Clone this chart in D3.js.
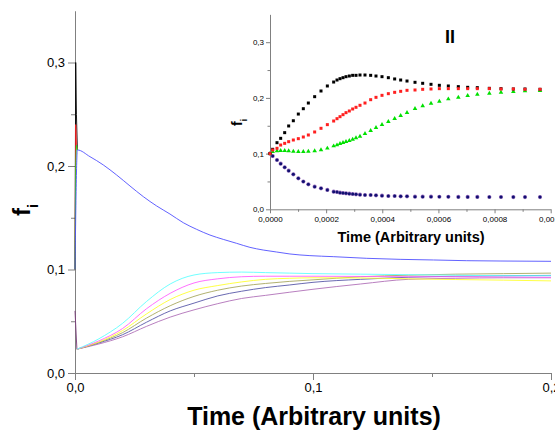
<!DOCTYPE html>
<html><head><meta charset="utf-8">
<script src="https://cdn.jsdelivr.net/npm/d3@7"></script>
<style>
html,body{margin:0;padding:0;background:#fff;}
svg{display:block;font-family:"Liberation Sans",Arial,sans-serif;}
</style></head>
<body><svg id="c" width="555" height="431"></svg>
<script>
// ---------- MAIN CHART DATA ----------
const mainYTicks = [0, 0.1, 0.2, 0.3];
const mainYMinor = [0.05, 0.15, 0.25];
const mainXTicks = [0, 0.1, 0.2];
const mainXMinor = [0.05, 0.15];

// upper (fast-relaxing) series
const tBlue = [0, .001, .0063, .0119, .0175, .0231, .0287, .0343, .0399, .0455, .0511, .0567, .0623, .0679, .0735, .0791, .0847, .0903, .0987, .1085, .1226, .1366, .1506, .1646, .1786, .2];
const vBlue = [.1, .2155, .209, .201, .1913, .1807, .1704, .1614, .1536, .1452, .1388, .1333, .1291, .1253, .1214, .1188, .1169, .115, .1134, .1124, .1108, .1098, .1092, .1085, .1082, .1079];
// initial spikes near t = 0
const tSpike = [0, .0003, .0006, .001];
const vSpikeBlack = [.1, .3, .25, .2155];
const vSpikeRed = [.1, .24, .22, .2155];
const vSpikeGreen = [.1, .2, .22, .2155];
const tSpikeLow = [0, .0008];
const vSpikeLow = [.06, .023];

// lower series
const tLow = [.0008, .01, .02, .03, .04, .05, .06, .07, .08, .09, .1, .12, .14, .16, .18, .2];
const vCyan    = [.023, .033, .048, .069, .086, .0947, .097, .0975, .097, .0965, .096, .0955, .095, .0945, .094, .094];
const vMagenta = [.023, .031, .043, .062, .077, .087, .091, .093, .0935, .0935, .0935, .0933, .093, .093, .0928, .0925];
const vYellow  = [.023, .030, .041, .057, .071, .080, .0845, .088, .0905, .0915, .092, .0918, .091, .0903, .0897, .089];
const vOlive   = [.023, .0295, .039, .053, .065, .074, .080, .084, .0865, .0885, .090, .093, .0945, .0955, .096, .0965];
const vNavy    = [.023, .029, .037, .049, .060, .0675, .0745, .079, .0825, .085, .0876, .0905, .0925, .0935, .094, .0943];
const vPurple  = [.023, .028, .035, .045, .054, .061, .067, .072, .075, .078, .0809, .086, .0905, .0915, .092, .092];

// ---------- INSET DATA ----------
const insetYTicks = [0, 0.1, 0.2, 0.3];
const insetYMinor = [0.05, 0.15, 0.25];
const insetXTicks = [0, 0.0002, 0.0004, 0.0006, 0.0008, 0.001];
const insetXMinor = [0.0001, 0.0003, 0.0005, 0.0007, 0.0009];
const tInset = [0, 9.5e-6, 24.9e-6, 38.0e-6, 52.3e-6, 66.5e-6, 83.1e-6, 100.9e-6, 118.7e-6, 136.6e-6,
  159.1e-6, 181.7e-6, 204.3e-6, 226.8e-6, 238.7e-6, 249.4e-6, 260.1e-6, 270.8e-6, 282.6e-6, 294.5e-6,
  306.4e-6, 320.6e-6, 338.4e-6, 358.6e-6, 377.6e-6, 399.0e-6, 421.6e-6, 444.1e-6, 465.5e-6, 488.1e-6,
  516.6e-6, 543.9e-6, 573.6e-6, 603.3e-6, 635.3e-6, 670.9e-6, 704.2e-6, 738.6e-6, 781.4e-6, 822.9e-6,
  866.9e-6, 908.4e-6, 961.9e-6];
const insBlack = [0.1, .1077, .1196, .1274, .1376, .1496, .159, .171, .1806, .1908,
  .2022, .2124, .2214, .2285, .2321, .2345, .2363, .2381, .2393, .2405,
  .2405, .2411, .2411, .2405, .2393, .2381, .2363, .234, .2321, .2303,
  .228, .2262, .2244, .2226, .2214, .2202, .219, .2184, .2172, .2166, .216, .216, .2154];
const insRed = [0.1, .1065, .1095, .1154, .1184, .1214, .1244, .1268, .1298, .1334,
  .1388, .1454, .152, .1585, .1627, .1663, .1699, .1735, .1765, .1801,
  .1831, .1867, .1908, .1968, .201, .2046, .2076, .21, .2118, .2136,
  .2142, .2154, .216, .2166, .2166, .2166, .2166, .2166, .2166, .216, .216, .2154, .2154];
const insGreen = [0.1, .1035, .1047, .1053, .1053, .1047, .1041, .1035, .1035, .1041,
  .1047, .1065, .1095, .1136, .1154, .1178, .1196, .1214, .1232, .1256,
  .128, .131, .1358, .1412, .1466, .152, .1573, .1627, .1681, .1735,
  .1807, .1855, .1902, .1938, .198, .201, .204, .2064, .2082, .21, .2112, .2124, .213];
const insLow = [0.1, .0957, .0885, .082, .0754, .0694, .0628, .0556, .0497, .0449,
  .0407, .0377, .0347, .0317, .0311, .0299, .0293, .0287, .0281, .0275,
  .0269, .0263, .0257, .0257, .0251, .0245, .0239, .0239, .0233, .0233,
  .0227, .0227, .0227, .0225, .0224, .0223, .0222, .0222, .0221, .0221, .022, .022, .022];

// ---------- DRAW ----------
const svg = d3.select("#c");
const axisColor = "#808080";
const comma = f => v => f(v).replace(".", ",");

function styleAxis(g, fs) {
  g.select(".domain").attr("stroke", axisColor);
  g.selectAll(".tick line").attr("stroke", axisColor);
  g.selectAll(".tick text").attr("fill", "#000").style("font-size", fs + "px")
    .style("font-family", '"Liberation Sans",Arial,sans-serif');
}

// main scales
const x = d3.scaleLinear().domain([0, 0.2]).range([75, 551]);
const y = d3.scaleLinear().domain([0, 0.35]).range([373, 10.75]);

// main axes
const gy = svg.append("g").attr("transform", "translate(75,0)")
  .call(d3.axisLeft(y).tickValues(mainYTicks).tickSize(7).tickSizeOuter(0).tickPadding(3).tickFormat(comma(d3.format(".1f"))));
styleAxis(gy, 13);
const gym = svg.append("g").attr("transform", "translate(75,0)")
  .call(d3.axisLeft(y).tickValues(mainYMinor).tickSize(4).tickSizeOuter(0).tickFormat(""));
styleAxis(gym, 13); gym.select(".domain").remove();
const gx = svg.append("g").attr("transform", "translate(0,373)")
  .call(d3.axisBottom(x).tickValues(mainXTicks).tickSize(7).tickSizeOuter(0).tickPadding(3).tickFormat(comma(d3.format(".1f"))));
styleAxis(gx, 13);
const gxm = svg.append("g").attr("transform", "translate(0,373)")
  .call(d3.axisBottom(x).tickValues(mainXMinor).tickSize(4).tickSizeOuter(0).tickFormat(""));
styleAxis(gxm, 13); gxm.select(".domain").remove();

const mline = d3.line().x(d => x(d[0])).y(d => y(d[1])).curve(d3.curveMonotoneX);
const lline = d3.line().x(d => x(d[0])).y(d => y(d[1]));
function drawMain(ts, vs, color, gen) {
  svg.append("path").datum(ts.map((t, i) => [t, vs[i]]))
    .attr("d", gen || mline).attr("fill", "none").attr("stroke", color).attr("stroke-width", 0.9);
}
drawMain(tSpikeLow, vSpikeLow, "#7a3a7a", lline);
drawMain(tLow, vPurple, "#b070b8");
drawMain(tLow, vNavy, "#5858a8");
drawMain(tLow, vOlive, "#a8a860");
drawMain(tLow, vYellow, "#ffff30");
drawMain(tLow, vMagenta, "#ff60ff");
drawMain(tLow, vCyan, "#60ffff");
drawMain(tSpike, vSpikeBlack, "#000000", lline);
drawMain(tSpike, vSpikeRed, "#ff2020", lline);
drawMain(tSpike, vSpikeGreen, "#20e020", lline);
drawMain(tBlue, vBlue, "#5050ff");

// main titles
svg.append("text").attr("x", 314).attr("y", 425).attr("text-anchor", "middle")
  .style("font-size", "25px").style("font-weight", "bold").text("Time (Arbitrary units)");
const fl = svg.append("text").attr("transform", "translate(30,216) rotate(-90)")
  .style("font-weight", "bold");
fl.append("tspan").style("font-size", "24px").text("f");
fl.append("tspan").style("font-size", "14px").attr("dy", 8).text("i");

// ---------- INSET ----------
const xi = d3.scaleLinear().domain([0, 0.001]).range([270, 550.7]);
const yi = d3.scaleLinear().domain([0, 0.35]).range([209.3, 14.35]);

const iy = svg.append("g").attr("transform", "translate(270,0)")
  .call(d3.axisLeft(yi).tickValues(insetYTicks).tickSize(4).tickSizeOuter(0).tickPadding(2).tickFormat(comma(d3.format(".1f"))));
styleAxis(iy, 8);
const iym = svg.append("g").attr("transform", "translate(270,0)")
  .call(d3.axisLeft(yi).tickValues(insetYMinor).tickSize(2.5).tickSizeOuter(0).tickFormat(""));
styleAxis(iym, 8); iym.select(".domain").remove();
const ix = svg.append("g").attr("transform", "translate(0,209.3)")
  .call(d3.axisBottom(xi).tickValues(insetXTicks).tickSize(4).tickSizeOuter(0).tickPadding(3).tickFormat(comma(d3.format(".4f"))));
styleAxis(ix, 8);
const ixm = svg.append("g").attr("transform", "translate(0,209.3)")
  .call(d3.axisBottom(xi).tickValues(insetXMinor).tickSize(2.5).tickSizeOuter(0).tickFormat(""));
styleAxis(ixm, 8); ixm.select(".domain").remove();

const pts = vs => tInset.map((t, i) => [t, vs[i]]);
// bottom series (overlapping navy / purple)
svg.append("g").selectAll("circle").data(pts(insLow)).join("circle")
  .attr("cx", d => xi(d[0])).attr("cy", d => yi(d[1])).attr("r", 2.1).attr("fill", "#9a70c0");
svg.append("g").selectAll("circle").data(pts(insLow)).join("circle")
  .attr("cx", d => xi(d[0])).attr("cy", d => yi(d[1])).attr("r", 1.5).attr("fill", "#101070");
// green triangles
const tri = d3.symbol().type(d3.symbolTriangle).size(9);
svg.append("g").selectAll("path").data(pts(insGreen)).join("path")
  .attr("transform", d => `translate(${xi(d[0])},${yi(d[1])})`).attr("d", tri).attr("fill", "#00e000");
// black squares
svg.append("g").selectAll("rect").data(pts(insBlack)).join("rect")
  .attr("x", d => xi(d[0]) - 1.5).attr("y", d => yi(d[1]) - 1.5).attr("width", 3).attr("height", 3).attr("fill", "#000");
// red squares
svg.append("g").selectAll("rect").data(pts(insRed)).join("rect")
  .attr("x", d => xi(d[0]) - 1.5).attr("y", d => yi(d[1]) - 1.5).attr("width", 3).attr("height", 3).attr("fill", "#ff2020");

svg.append("text").attr("x", 411).attr("y", 242).attr("text-anchor", "middle")
  .style("font-size", "14.5px").style("font-weight", "bold").text("Time (Arbitrary units)");
svg.append("text").attr("x", 450).attr("y", 43).attr("text-anchor", "middle")
  .style("font-size", "18px").style("font-weight", "bold").text("II");
const fi = svg.append("text").attr("transform", "translate(242,126) rotate(-90)")
  .style("font-weight", "bold");
fi.append("tspan").style("font-size", "14px").text("f");
fi.append("tspan").style("font-size", "9px").attr("dy", 5).text("i");
</script></body></html>
